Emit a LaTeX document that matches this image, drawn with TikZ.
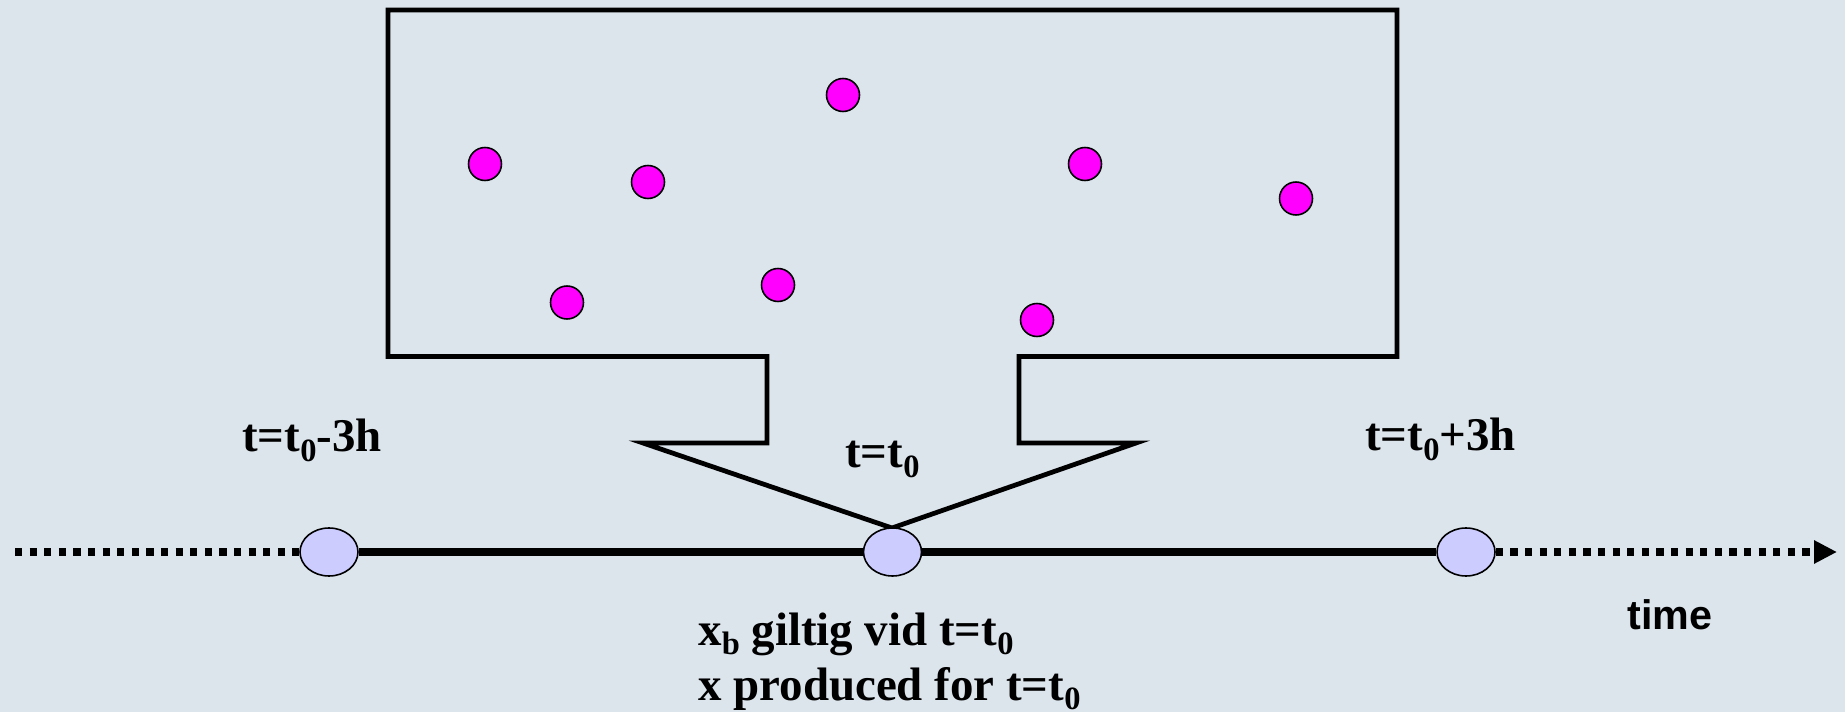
\documentclass[tikz,border=0pt]{standalone}
\usepackage{fontspec}
\setmainfont{Liberation Serif}
\newfontfamily\arialfont{Liberation Sans}
\usepackage{tikz}
\usetikzlibrary{arrows.meta,positioning,shapes.geometric}
\definecolor{paper}{RGB}{220,228,236}
\definecolor{lavender2}{RGB}{204,204,255}
\definecolor{magenta2}{RGB}{255,0,255}
\newcommand{\lowidx}[1]{\raisebox{-0.2em}{\fontsize{18.5pt}{18.5pt}\selectfont #1}}
\tikzset{
  funnel/.style={draw=black, line width=2.7pt, miter limit=10},
  timestep/.style={ellipse, draw=black, line width=0.9pt, fill=lavender2,
    minimum width=11.6mm, minimum height=9.6mm, inner sep=0pt},
  particle/.style={circle, draw=black, line width=0.9pt, fill=magenta2,
    minimum size=6.6mm, inner sep=0pt},
  solidaxis/.style={line width=4pt},
  dottedaxis/.style={line width=4pt, dash pattern=on 1.46mm off 1.46mm},
  lbl/.style={anchor=base west, inner sep=0pt, font=\fontsize{26.7pt}{30pt}\selectfont\bfseries},
  axislbl/.style={anchor=base west, inner sep=0pt, font=\fontsize{23.5pt}{28pt}\selectfont\arialfont\bfseries}
}
\begin{document}
\begin{tikzpicture}[x=0.02cm, y=-0.02cm]
\fill[paper] (0,0) rectangle (1845,712);

% Observation box with funnel
\draw[funnel] (388,10) -- (1397,10) -- (1397,356.5) -- (1019,356.5) -- (1019,443)
  -- (1136,443) -- (892,528) -- (643,443) -- (767,443) -- (767,356.5)
  -- (388,356.5) -- cycle;

% Observations
\node[particle] (p1) at (843,95) {};
\node[particle] (p2) at (485,164) {};
\node[particle] (p3) at (648,182) {};
\node[particle] (p4) at (1085,164) {};
\node[particle] (p5) at (1296,198.5) {};
\node[particle] (p6) at (567,302.5) {};
\node[particle] (p7) at (778,285) {};
\node[particle] (p8) at (1037,320) {};

% Time axis
\coordinate (axstart) at (15,552);
\coordinate (axend) at (1837,552);
\node[timestep] (tminus) at (329,552) {};
\node[timestep] (tnow) at (892.5,552) {};
\node[timestep] (tplus) at (1466,552) {};

\draw[dottedaxis] (axstart) -- (tminus.west);
\draw[solidaxis] (tminus.east) -- (tnow.west);
\draw[solidaxis] (tnow.east) -- (tplus.west);
\draw[dottedaxis, -{Triangle[length=4.6mm, width=4.4mm]}] (tplus.east) -- (axend);

% Labels
\node[lbl] (lminus) at (242,452) {t=t\lowidx{0}-3h};
\node[lbl] (lnow) at (845,468) {t=t\lowidx{0}};
\node[lbl] (lplus) at (1365,451) {t=t\lowidx{0}+3h};
\node[axislbl] (timelbl) at (1627,629) {time};
\node[lbl] (xb) at (698,645) {x\lowidx{b} giltig vid t=t\lowidx{0}};
\node[lbl] (xa) at (698,700) {x produced for t=t\lowidx{0}};
\end{tikzpicture}
\end{document}
